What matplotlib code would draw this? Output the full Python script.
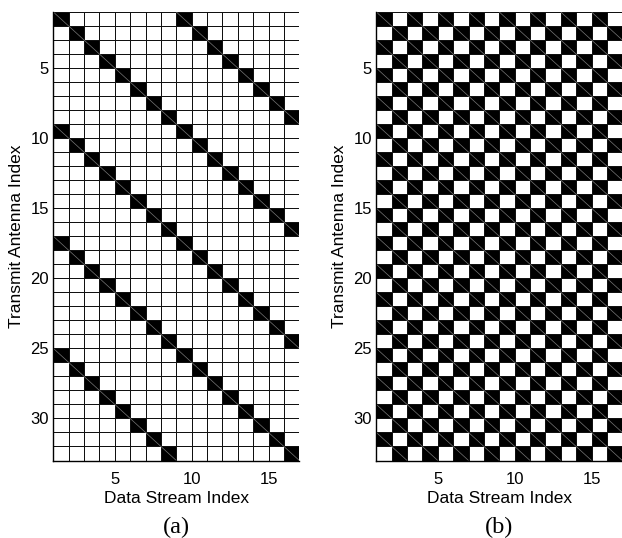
import numpy as np
import matplotlib
matplotlib.use('Agg')
import matplotlib.pyplot as plt
from matplotlib.collections import LineCollection

# 1 = black cell, rows = transmit antenna 1..32, cols = data stream 1..16
rows_a = [
    "1000000010000000", "0100000001000000", "0010000000100000", "0001000000010000",
    "0000100000001000", "0000010000000100", "0000001000000010", "0000000100000001",
    "1000000010000000", "0100000001000000", "0010000000100000", "0001000000010000",
    "0000100000001000", "0000010000000100", "0000001000000010", "0000000100000001",
    "1000000010000000", "0100000001000000", "0010000000100000", "0001000000010000",
    "0000100000001000", "0000010000000100", "0000001000000010", "0000000100000001",
    "1000000010000000", "0100000001000000", "0010000000100000", "0001000000010000",
    "0000100000001000", "0000010000000100", "0000001000000010", "0000000100000001",
]
rows_b = [
    "1010101010101010", "0101010101010101", "1010101010101010", "0101010101010101",
    "1010101010101010", "0101010101010101", "1010101010101010", "0101010101010101",
    "1010101010101010", "0101010101010101", "1010101010101010", "0101010101010101",
    "1010101010101010", "0101010101010101", "1010101010101010", "0101010101010101",
    "1010101010101010", "0101010101010101", "1010101010101010", "0101010101010101",
    "1010101010101010", "0101010101010101", "1010101010101010", "0101010101010101",
    "1010101010101010", "0101010101010101", "1010101010101010", "0101010101010101",
    "1010101010101010", "0101010101010101", "1010101010101010", "0101010101010101",
]
xticks = [5, 10, 15]
yticks = [5, 10, 15, 20, 25, 30]
panel_tags = ["(a)", "(b)"]

plt.rcParams['font.family'] = ['Liberation Sans', 'DejaVu Sans']

fig = plt.figure(figsize=(6.22, 5.38), dpi=100)
W, H = 622, 538
boxes = [(53.3, 12, 246, 448.5), (376.3, 12, 246, 448.5)]


def draw(ax, rows, tag):
    m = np.array([[int(c) for c in r] for r in rows])
    nr, nc = m.shape
    xe = np.arange(1, nc + 2)
    ye = np.arange(1, nr + 2)
    ax.pcolormesh(xe, ye, 1 - m, cmap='gray', vmin=0, vmax=1,
                  edgecolors='#111111', linewidth=0.65)
    segs = []
    for i in range(nr):
        for j in range(nc):
            if m[i, j]:
                segs.append([(xe[j], ye[i]), (xe[j + 1], ye[i + 1])])
    ax.add_collection(LineCollection(segs, colors='#777777', linewidths=0.5))
    ax.set_xlim(1, nc + 1)
    ax.set_ylim(nr + 1, 1)
    ax.set_xticks(xticks)
    ax.set_yticks(yticks)
    ax.tick_params(direction='in', length=0, labelsize=12)
    ax.tick_params(axis='x', pad=8)
    ax.tick_params(axis='y', pad=3)
    for s in ['top', 'right']:
        ax.spines[s].set_visible(False)
    for s in ['left', 'bottom']:
        ax.spines[s].set_linewidth(1.0)
    ax.text(0.5, -0.0953, 'Data Stream Index', transform=ax.transAxes,
            ha='center', va='baseline', fontsize=12.5)
    ax.set_ylabel('Transmit Antenna Index', fontsize=12.5)
    ax.yaxis.set_label_coords(-0.118, 0.5)
    ax.text(0.5, -0.162, tag, transform=ax.transAxes, ha='center', va='baseline',
            fontsize=17.5, family='Liberation Serif')


for (l, t, w, h), rows, tag in zip(boxes, [rows_a, rows_b], panel_tags):
    ax = fig.add_axes([l / W, 1 - (t + h) / H, w / W, h / H])
    draw(ax, rows, tag)

fig.savefig('out.png', dpi=100)
